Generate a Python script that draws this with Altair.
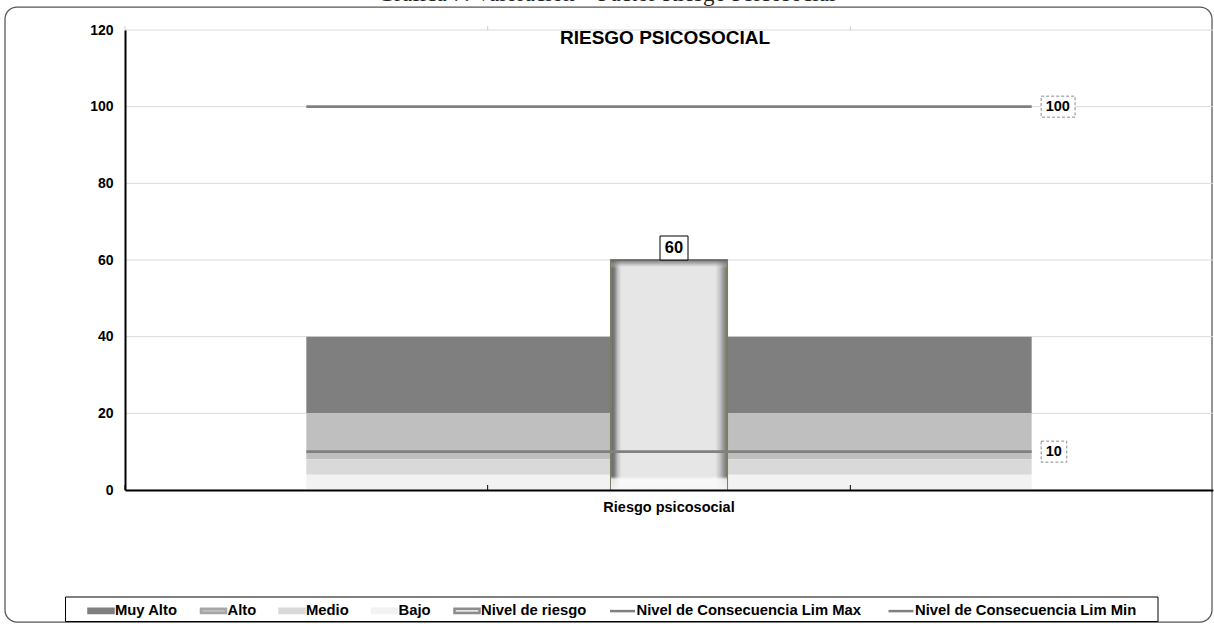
import altair as alt
import pandas as pd

# ---- datos ----
categorias = ["inicio", "Riesgo psicosocial", "fin"]
bandas = ["Muy Alto", "Alto", "Medio", "Bajo"]
espesor_banda = [20, 12, 4, 4]          # Muy Alto 20-40, Alto 8-20, Medio 4-8, Bajo 0-4
serie_riesgo = "Nivel de riesgo"
valor_riesgo = 60
limites = ["Nivel de Consecuencia  Lim Max", "Nivel de Consecuencia  Lim Min"]
valores_limite = [100, 10]
titulo = "RIESGO PSICOSOCIAL"
rotulo = "Gráfica 7. Valoración – Factor Riesgo Psicosocial"
marcas_y = [0, 20, 40, 60, 80, 100, 120]

# ---- estilo ----
FUENTE = "Liberation Sans"
SERIF = "Liberation Serif"
W, H = 1088, 460
colores_banda = ["#7f7f7f", "#bfbfbf", "#d9d9d9", "#f2f2f2"]
GRIS_LINEA = "#808080"

# tablas
filas_bandas = []
for i, (b, e) in enumerate(zip(bandas, espesor_banda)):
    for c in categorias:
        filas_bandas.append({"categoria": c, "banda": b, "valor": e,
                             "orden": len(bandas) - 1 - i})
df_bandas = pd.DataFrame(filas_bandas)

df_barra = pd.DataFrame({"categoria": [categorias[1]], "serie": [serie_riesgo],
                         "valor": [valor_riesgo]})

df_lim = pd.DataFrame([{"categoria": c, "serie": s, "valor": v}
                       for s, v in zip(limites, valores_limite) for c in categorias])

orden_leyenda = bandas + [serie_riesgo] + limites
df_leyenda = pd.DataFrame({"serie": orden_leyenda})
df_cat = pd.DataFrame({"categoria": categorias})
df_rejilla = pd.DataFrame({"valor": marcas_y})
df_uno = pd.DataFrame({"t": [titulo]})
df_rotulo = pd.DataFrame({"t": [rotulo]})

# ---- escalas y ejes ----
xs = alt.Scale(type="band", domain=categorias, paddingInner=0, paddingOuter=0)
ys = alt.Scale(domain=[0, 120], nice=False)

eje_x = alt.Axis(title=None, ticks=False, tickSize=0, grid=False, labelAngle=0,
                 labelExpr="datum.value == 'Riesgo psicosocial' ? datum.label : ''",
                 labelFont=FUENTE, labelFontSize=14.5, labelFontWeight="bold",
                 labelColor="black", labelPadding=10, domainColor="black",
                 domainWidth=2, zindex=1)
eje_y = alt.Axis(title=None, values=marcas_y, format="d", ticks=False, tickSize=0,
                 labelFont=FUENTE, labelFontSize=14, labelFontWeight="bold",
                 labelColor="black", labelPadding=12, domainColor="black",
                 domainWidth=2, grid=False, zindex=1)

X = lambda **kw: alt.X("categoria:N", scale=xs, axis=None, **kw)
Y = lambda: alt.Y("valor:Q", scale=ys, axis=None)

# marco exterior del gráfico
marco = alt.Chart(df_uno).mark_rect(
    filled=False, color="#555555", strokeWidth=1.25, cornerRadius=12
).encode(x=alt.value(-120), x2=alt.value(1087), y=alt.value(-23), y2=alt.value(592))

# líneas de rejilla horizontales
rejilla = alt.Chart(df_rejilla).mark_rule(color="#d9d9d9", strokeWidth=1).encode(
    y=Y(), x=alt.value(0), x2=alt.value(W))

# bandas de nivel (áreas apiladas)
capas_bandas = alt.Chart(df_bandas).mark_area(opacity=1).encode(
    x=alt.X("categoria:N", scale=xs, axis=eje_x),
    y=alt.Y("valor:Q", stack="zero", scale=ys, axis=eje_y),
    color=alt.Color("banda:N", scale=alt.Scale(domain=bandas, range=colores_banda),
                    legend=None),
    order=alt.Order("orden:Q"),
)

# barra del nivel de riesgo con efecto biselado
grad_h = {"gradient": "linear", "x1": 0, "x2": 1, "y1": 0, "y2": 0,
          "stops": [{"offset": 0, "color": "#656565"},
                    {"offset": 0.03, "color": "#7e7e7e"},
                    {"offset": 0.06, "color": "#c4c4c4"},
                    {"offset": 0.09, "color": "#e6e6e6"},
                    {"offset": 0.90, "color": "#e6e6e6"},
                    {"offset": 0.94, "color": "#c2c2c2"},
                    {"offset": 0.97, "color": "#969696"},
                    {"offset": 1, "color": "#767676"}]}
grad_v = {"gradient": "linear", "x1": 0, "x2": 0, "y1": 0, "y2": 1,
          "stops": [{"offset": 0, "color": "rgba(95,95,95,0.85)"},
                    {"offset": 0.018, "color": "rgba(150,150,150,0.55)"},
                    {"offset": 0.035, "color": "rgba(230,230,230,0)"},
                    {"offset": 0.94, "color": "rgba(255,255,255,0)"},
                    {"offset": 0.955, "color": "rgba(252,252,252,0.85)"},
                    {"offset": 1, "color": "rgba(248,248,248,0.95)"}]}
ancho_barra = alt.RelativeBandSize(0.32)
barra = alt.Chart(df_barra).mark_bar(
    width=ancho_barra, fill=grad_h, stroke="#77805e", strokeWidth=2
).encode(x=X(), y=Y())
bisel = alt.Chart(df_barra).mark_bar(width=ancho_barra, fill=grad_v).encode(x=X(), y=Y())

# líneas de límite
lineas = alt.Chart(df_lim).mark_line(color=GRIS_LINEA, strokeWidth=2.75).encode(
    x=X(), y=Y(), detail="serie:N")

base_etq_lim = alt.Chart(df_lim).transform_filter(
    alt.datum.categoria == categorias[-1]
).transform_calculate(
    etiqueta="format(datum.valor, 'd')"
).transform_calculate(
    caja="'M9.5,-10.5H' + (18.5 + length(datum.etiqueta) * 8.3) + 'V10.5H9.5Z'"
)
cajas_lim = base_etq_lim.mark_point(
    filled=True, fill="white", stroke="#8a8a8a", strokeWidth=1,
    strokeDash=[3, 2], size=4, opacity=1
).encode(x=X(), y=Y(), shape=alt.Shape("caja:N", scale=None))
textos_lim = base_etq_lim.mark_text(
    align="left", baseline="middle", dx=14, font=FUENTE, fontSize=14.5,
    fontWeight="bold", color="black"
).encode(x=X(), y=Y(), text="etiqueta:N")

# etiqueta de la barra
base_etq_barra = alt.Chart(df_barra).transform_calculate(
    etiqueta="format(datum.valor, 'd')"
).transform_calculate(
    w="length(datum.etiqueta) * 9.5 + 9"
).transform_calculate(
    caja="'M' + (5 - datum.w / 2) + ',-24H' + (5 + datum.w / 2) + 'V0H' + (5 - datum.w / 2) + 'Z'"
)
caja_barra = base_etq_barra.mark_point(
    filled=True, fill="white", stroke="black", strokeWidth=1, size=4, opacity=1
).encode(x=X(), y=Y(), shape=alt.Shape("caja:N", scale=None))
texto_barra = base_etq_barra.mark_text(
    align="center", baseline="middle", dx=5, dy=-12, font=FUENTE, fontSize=16.5,
    fontWeight="bold", color="black"
).encode(x=X(), y=Y(), text="etiqueta:N")

# marcas de división entre categorías: abajo hacia dentro, arriba hacia fuera
div_abajo = alt.Chart(df_cat).mark_rule(color="black", strokeWidth=1).encode(
    x=X(bandPosition=0), y=alt.value(H), y2=alt.value(H - 5))
div_arriba = alt.Chart(df_cat).mark_rule(color="#d0d0d0", strokeWidth=1).encode(
    x=X(bandPosition=0), y=alt.value(0), y2=alt.value(-4))

# títulos
texto_titulo = alt.Chart(df_uno).mark_text(
    font=FUENTE, fontSize=19, fontWeight="bold", color="black",
    align="center", baseline="middle"
).encode(x=alt.value(540), y=alt.value(8), text="t:N")
texto_rotulo = alt.Chart(df_rotulo).mark_text(
    font=SERIF, fontSize=23, color="#222222", align="center", baseline="alphabetic"
).encode(x=alt.value(481.5), y=alt.value(-28.7), text="t:N")

# leyenda
marco_leyenda = alt.Chart(df_uno).mark_rect(
    fill="white", stroke="black", strokeWidth=1
).encode(x=alt.value(-59.5), x2=alt.value(1033), y=alt.value(567), y2=alt.value(591.5))

rect_sym = "M-1,-0.17H1V0.17H-1Z"
leg = alt.Legend(
    title=None, orient="none", legendX=-38, legendY=566.5, direction="horizontal",
    labelFont=FUENTE, labelFontSize=14.8, labelFontWeight="bold", labelColor="black",
    labelLimit=500, labelOffset=0, columnPadding=17.5, padding=0,
    symbolSize=625, symbolStrokeWidth=2.5, symbolOpacity=1,
)
puntos_leyenda = alt.Chart(df_leyenda).mark_point(opacity=0, filled=True).encode(
    fill=alt.Fill("serie:N", legend=leg, scale=alt.Scale(
        domain=orden_leyenda,
        range=colores_banda + ["#e6e6e6", GRIS_LINEA, GRIS_LINEA])),
    stroke=alt.Stroke("serie:N", legend=leg, scale=alt.Scale(
        domain=orden_leyenda,
        range=["#7f7f7f", "#a6a6a6", "#d9d9d9", "#f2f2f2", "#8c8c8c",
               GRIS_LINEA, GRIS_LINEA])),
    shape=alt.Shape("serie:N", legend=leg, scale=alt.Scale(
        domain=orden_leyenda,
        range=[rect_sym] * 5 + ["stroke", "stroke"])),
)

chart = alt.layer(
    marco, rejilla, capas_bandas, barra, bisel, lineas, cajas_lim, textos_lim,
    caja_barra, texto_barra, div_abajo, div_arriba, texto_titulo, texto_rotulo,
    marco_leyenda, puntos_leyenda,
).resolve_axis(x="independent", y="independent").properties(
    width=W, height=H,
    autosize=alt.AutoSizeParams(type="none"),
    padding={"left": 125, "top": 30, "right": 1, "bottom": 134},
    background="white",
).configure(font=FUENTE).configure_view(strokeWidth=0)

chart.save("out.html", embed_options={"renderer": "svg", "actions": False})
